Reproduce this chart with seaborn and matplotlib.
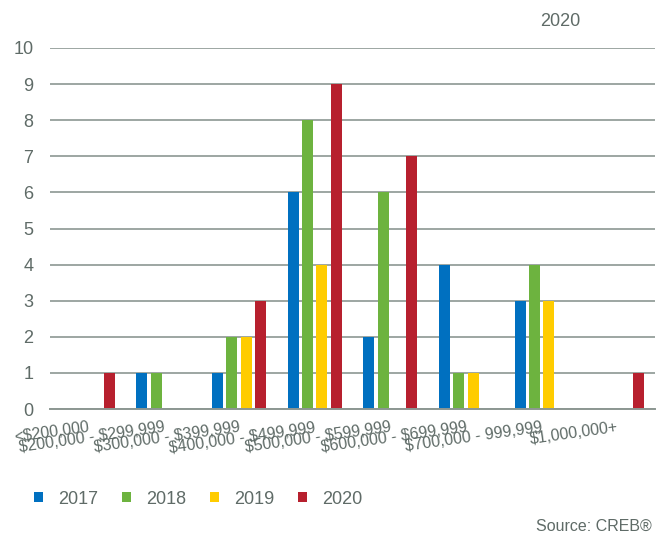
import numpy as np
import pandas as pd
import matplotlib
matplotlib.use("Agg")
import matplotlib.pyplot as plt
from matplotlib.patches import Patch
import seaborn as sns

# Price bands and yearly sales counts
price_ranges = ["<$200,000", "$200,000 - $299,999", "$300,000 - $399,999",
                "$400,000 - $499,999", "$500,000 - $599,999", "$600,000 - $699,999",
                "$700,000 - 999,999", "$1,000,000+"]
years = ["2017", "2018", "2019", "2020"]
sales_2017 = [0, 1, 1, 6, 2, 4, 3, 0]
sales_2018 = [0, 1, 2, 8, 6, 1, 4, 0]
sales_2019 = [0, 0, 2, 4, 0, 1, 3, 0]
sales_2020 = [1, 0, 3, 9, 7, 0, 0, 1]
y_ticks = list(range(0, 11))

colors = ["#0070C0", "#6DB33F", "#FFCC00", "#B7202E"]
text_color = "#5f6b67"
grid_color = "#8c9792"

df = pd.DataFrame({
    "range": price_ranges * 4,
    "year": np.repeat(years, len(price_ranges)),
    "count": sales_2017 + sales_2018 + sales_2019 + sales_2020,
})

sns.set_theme(style="white")
plt.rcParams["font.family"] = ["Liberation Sans", "DejaVu Sans"]

fig = plt.figure(figsize=(6.66, 5.37), dpi=100)
ax = fig.add_axes([50 / 666, 1 - 409 / 537, 605 / 666, 361 / 537])

sns.barplot(data=df, x="range", y="count", hue="year", order=price_ranges,
            hue_order=years, palette=colors, saturation=1, width=0.757, gap=0.23,
            legend=False, ax=ax, zorder=3, edgecolor="none", linewidth=0)

ax.set_ylim(0, 10)
ax.set_xlim(-0.5, len(price_ranges) - 0.5)
ax.set_yticks(y_ticks)
ax.set_yticklabels([str(t) for t in y_ticks], fontsize=13, color=text_color)
ax.set_xticks(range(len(price_ranges)))
ax.set_xticklabels([s.replace("$", r"\$") for s in price_ranges], rotation=8,
                   ha="right", va="top", rotation_mode="anchor",
                   fontsize=11.5, color=text_color)
ax.tick_params(axis="y", length=0, pad=12)
ax.tick_params(axis="x", length=0, pad=8)
ax.set_xlabel("")
ax.set_ylabel("")

ax.yaxis.grid(True, color=grid_color, linewidth=1.2)
ax.xaxis.grid(False)
ax.set_axisbelow(True)
for side in ["left", "right", "top"]:
    ax.spines[side].set_visible(False)
ax.spines["bottom"].set_color(grid_color)
ax.spines["bottom"].set_linewidth(1.4)
ax.spines["bottom"].set_zorder(4)

handles = [Patch(facecolor=c, edgecolor="none", label=y) for c, y in zip(colors, years)]
leg = fig.legend(handles=handles, loc="center left", bbox_to_anchor=(34 / 666, 1 - 499 / 537),
                 ncol=4, frameon=False, fontsize=13, handlelength=0.5, handleheight=0.5,
                 handletextpad=0.83, columnspacing=1.33, borderpad=0, borderaxespad=0)
for t in leg.get_texts():
    t.set_color(text_color)

fig.text(560 / 666, 1 - 22 / 537, "2020", ha="center", va="center",
         fontsize=13, color=text_color)
fig.text(652 / 666, 1 - 526 / 537, "Source: CREB®", ha="right", va="center",
         fontsize=11.5, color=text_color)

fig.savefig("out.png", dpi=100)
